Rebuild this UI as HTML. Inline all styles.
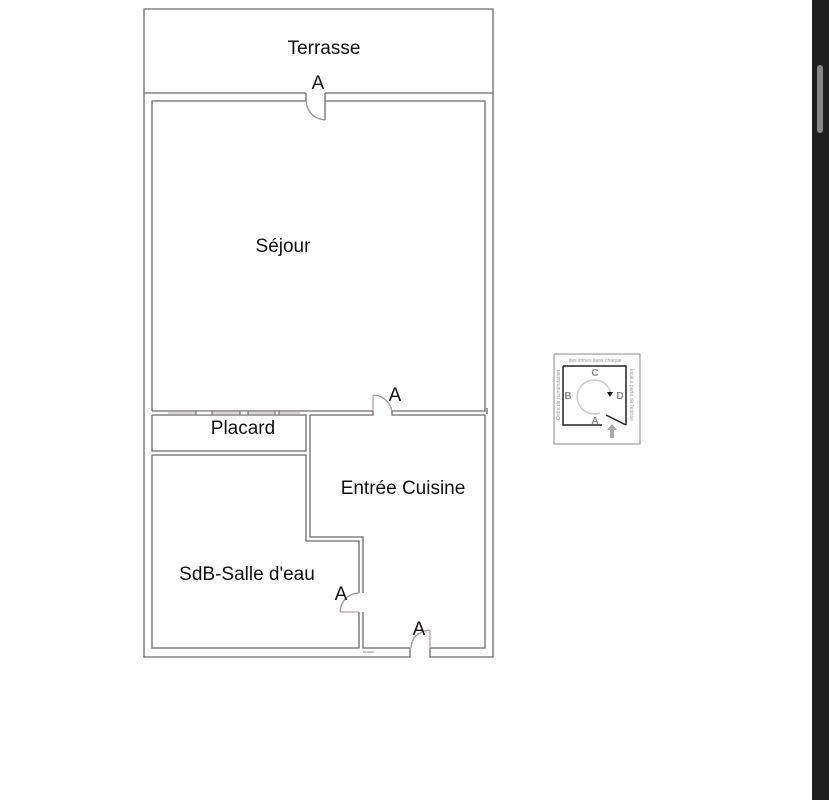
<!DOCTYPE html>
<html><head><meta charset="utf-8"><style>
html,body{margin:0;padding:0;background:#fff;width:829px;height:800px;overflow:hidden}
svg{position:absolute;left:0;top:0}
text{font-family:"Liberation Sans",sans-serif;fill:#111}
</style></head><body>
<svg width="829" height="800" viewBox="0 0 829 800">
<g stroke="#6a6a6a" stroke-width="1.3" fill="none">
<polyline points="144,93 144,9 493,9 493,93"/>
<polyline points="306,93 144,93 144,657 410,657 410,648"/>
<polyline points="325,93 493,93 493,657 430,657 430,648"/>
<polyline points="306,101 152,101 152,411"/>
<polyline points="325,101 485,101 485,411 392,411"/>
<polyline points="373,411 152,411"/>
<line x1="306" y1="93" x2="306" y2="101"/>
<line x1="325" y1="93" x2="325" y2="120"/>
<polyline points="152,415 306,415 306,451 152,451 152,415"/>
<polyline points="310,415 373,415 373,411"/>
<polyline points="392,411 392,415 485,415 485,648 430,648"/>
<polyline points="152,455 306,455 306,541 359,541 359,593"/>
<polyline points="359,612 359,648 152,648 152,455"/>
<polyline points="310,415 310,537 363,537 363,593"/>
<polyline points="363,612 363,648 410,648"/>
<path d="M306,101 Q308,118 325,120" stroke="#999"/>
<path d="M373,395 Q388,396 392,411" stroke="#999"/>
<line x1="373" y1="395" x2="373" y2="411" stroke="#c99"/>
<path d="M359,593 Q342,594 340,612" stroke="#999"/>
<line x1="340" y1="612" x2="359" y2="612" stroke="#c99"/>
<path d="M430,630 Q412,632 411,648" stroke="#999"/>
<line x1="430" y1="630" x2="430" y2="648" stroke="#c99"/>
<line x1="363" y1="652" x2="374" y2="652" stroke="#aaa"/>
<line x1="487" y1="408" x2="487" y2="414"/>
</g>
<rect x="153" y="412" width="152" height="2" fill="#fff"/>
<line x1="168" y1="413" x2="300" y2="413" stroke="#c9a0a0" stroke-width="1"/>
<g stroke="#666" stroke-width="1" fill="#fff">
<rect x="196" y="411" width="16" height="4"/>
<rect x="240" y="411" width="8" height="4"/>
<rect x="275" y="411" width="4" height="4"/>
</g>
<text x="324" y="54" font-size="19" text-anchor="middle">Terrasse</text>
<text x="318" y="89" font-size="19" text-anchor="middle">A</text>
<text x="283" y="252" font-size="19" text-anchor="middle">Séjour</text>
<text x="395" y="401" font-size="19" text-anchor="middle">A</text>
<text x="243" y="434" font-size="19" text-anchor="middle">Placard</text>
<text x="403" y="494" font-size="19" text-anchor="middle">Entrée Cuisine</text>
<text x="247" y="580" font-size="19" text-anchor="middle">SdB-Salle d'eau</text>
<text x="341" y="600" font-size="19" text-anchor="middle">A</text>
<text x="419" y="635" font-size="19" text-anchor="middle">A</text>
<rect x="554" y="354" width="86" height="90" fill="#fff" stroke="#888" stroke-width="1"/>
<polyline points="563,366 563,425 602,425" fill="none" stroke="#222" stroke-width="1.5"/>
<polyline points="563,366 626,366 626,425" fill="none" stroke="#222" stroke-width="1.5"/>
<line x1="606" y1="415" x2="626" y2="425" stroke="#222" stroke-width="1.5"/>
<path d="M600,413 A17,17 0 1,1 611,394" fill="none" stroke="#ccc" stroke-width="1.5"/>
<polygon points="607,392 613,392 610,397" fill="#111"/>
<text x="595" y="376" font-size="10" text-anchor="middle" style="fill:#888;font-weight:bold">C</text>
<text x="568" y="399" font-size="10" text-anchor="middle" style="fill:#888;font-weight:bold">B</text>
<text x="620" y="399" font-size="10" text-anchor="middle" style="fill:#888;font-weight:bold">D</text>
<text x="595" y="424" font-size="10" text-anchor="middle" style="fill:#888;font-weight:bold">A</text>
<text x="595" y="362" font-size="5" text-anchor="middle" style="fill:#999">des zones dans chaque</text>
<text x="0" y="0" font-size="5" text-anchor="middle" style="fill:#999" transform="translate(560,395) rotate(-90)">Ordre de numérotation</text>
<text x="0" y="0" font-size="5" text-anchor="middle" style="fill:#999" transform="translate(630,395) rotate(90)">local à partir de l'entrée</text>
<rect x="610" y="428" width="4" height="10" fill="#aaa"/>
<polygon points="607,430 617,430 612,424" fill="#aaa"/>
<rect x="812" y="0" width="17" height="800" fill="#1e1e1e"/>
<rect x="817" y="65" width="6" height="68" rx="3" fill="#888"/>
</svg>
</body></html>
